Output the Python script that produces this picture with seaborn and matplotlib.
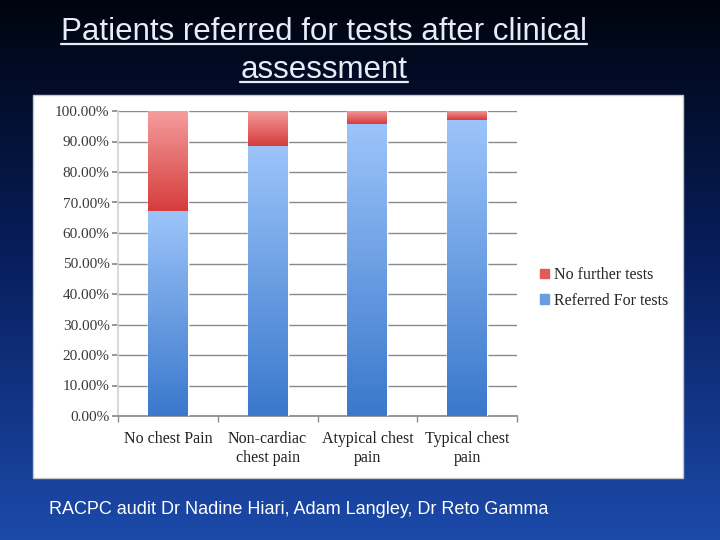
import numpy as np
import pandas as pd
import seaborn as sns
import matplotlib.pyplot as plt
from matplotlib.colors import LinearSegmentedColormap
from matplotlib.patches import Rectangle
from matplotlib.lines import Line2D
from matplotlib.ticker import FuncFormatter

categories = ["No chest Pain", "Non-cardiac\nchest pain", "Atypical chest\npain", "Typical chest\npain"]
referred = [66.9, 88.5, 95.7, 97.0]
no_further = [33.1, 11.5, 4.3, 3.0]
series_names = ["No further tests", "Referred For tests"]

title_lines = ["Patients referred for tests after clinical", "assessment"]
footer = "RACPC audit Dr Nadine Hiari, Adam Langley, Dr Reto Gamma"

df = pd.DataFrame({
    "category": categories,
    "referred": referred,
    "total": np.add(referred, no_further),
})

sns.set_theme(style="white")
plt.rcParams["font.family"] = ["Liberation Serif", "DejaVu Serif"]

fig = plt.figure(figsize=(7.2, 5.4), dpi=100)

# slide background (dark navy -> blue)
bg = fig.add_axes([0, 0, 1, 1], zorder=-10)
grad = np.linspace(0, 1, 256).reshape(-1, 1)
bg_cmap = LinearSegmentedColormap.from_list("slide", ["#00040f", "#082060", "#1c4aaa"])
bg.imshow(grad, aspect="auto", cmap=bg_cmap, extent=[0, 1, 0, 1], origin="upper")
bg.axis("off")

# white chart panel
fig.add_artist(Rectangle((33 / 720, 1 - 478 / 540), 650 / 720, 383 / 540,
                         transform=fig.transFigure, facecolor="white",
                         edgecolor="#c8c8c8", lw=1, zorder=-5))

ax = fig.add_axes([118 / 720, 1 - 416 / 540, 399 / 720, 305 / 540])
ax.set_facecolor("none")

red_cmap = LinearSegmentedColormap.from_list("red", ["#d63c3c", "#f59c9c"])
blue_cmap = LinearSegmentedColormap.from_list("blue", ["#3a78cc", "#9cc4fa"])

sns.barplot(data=df, x="category", y="total", color="#e05a5a", width=0.4,
            saturation=1, ax=ax, zorder=2)
sns.barplot(data=df, x="category", y="referred", color="#6a9de0", width=0.4,
            saturation=1, ax=ax, zorder=3)

# gradient fills over each segment
vgrad = np.linspace(0, 1, 128).reshape(-1, 1)
n = len(categories)
for i, p in enumerate(ax.patches):
    x0, w = p.get_x(), p.get_width()
    j = i % n
    if i < n:
        lo, hi, cm = df["referred"][j], df["total"][j], red_cmap
    else:
        lo, hi, cm = 0, df["referred"][j], blue_cmap
    ax.imshow(vgrad, extent=[x0, x0 + w, lo, hi], origin="lower", cmap=cm,
              aspect="auto", zorder=4, interpolation="bilinear")

ax.set_xlim(-0.5, n - 0.5)
ax.set_ylim(0, 100)
ax.set_yticks(np.arange(0, 101, 10))
ax.yaxis.set_major_formatter(FuncFormatter(lambda v, _: f"{v:.2f}%"))
ax.grid(axis="y", color="#8a8a8a", lw=1)
ax.set_axisbelow(True)
ax.set_xlabel("")
ax.set_ylabel("")
for s in ["top", "right"]:
    ax.spines[s].set_visible(False)
ax.spines["left"].set_color("#d4d4d4")
ax.spines["bottom"].set_color("#8a8a8a")
ax.tick_params(axis="y", left=True, length=4, color="#8a8a8a",
               labelsize=11, labelcolor="#3a3a3a", pad=2)
ax.tick_params(axis="x", bottom=False, labelsize=11.5, labelcolor="#222222", pad=5)
ax.set_xticks(np.arange(-0.5, n, 1), minor=True)
ax.tick_params(axis="x", which="minor", bottom=True, length=4, color="#8a8a8a")

handles = [Rectangle((0, 0), 1, 1, color="#e05a5a"),
           Rectangle((0, 0), 1, 1, color="#6a9de0")]
fig.legend(handles, series_names, loc="center left",
           bbox_to_anchor=(526 / 720, 1 - 288 / 540), frameon=False,
           fontsize=11.5, handlelength=0.55, handleheight=0.55,
           handletextpad=0.3, labelspacing=0.6)

# title with underline
renderer = fig.canvas.get_renderer()
for line, ypx in zip(title_lines, [40, 78]):
    t = fig.text(324 / 720, 1 - ypx / 540, line, ha="center", va="baseline",
                 color="#e8ecf6", fontsize=22.5, family=["Liberation Sans", "DejaVu Sans"])
    bb = t.get_window_extent(renderer)
    uy = 1 - (ypx + 4) / 540
    fig.add_artist(Line2D([bb.x0 / fig.bbox.width, bb.x1 / fig.bbox.width], [uy, uy],
                          color="#e8ecf6", lw=1.6, transform=fig.transFigure))

fig.text(49 / 720, 1 - 509 / 540, footer, ha="left", va="center", color="white",
         fontsize=13, family=["Liberation Sans", "DejaVu Sans"])

fig.savefig("out.png", dpi=100)
